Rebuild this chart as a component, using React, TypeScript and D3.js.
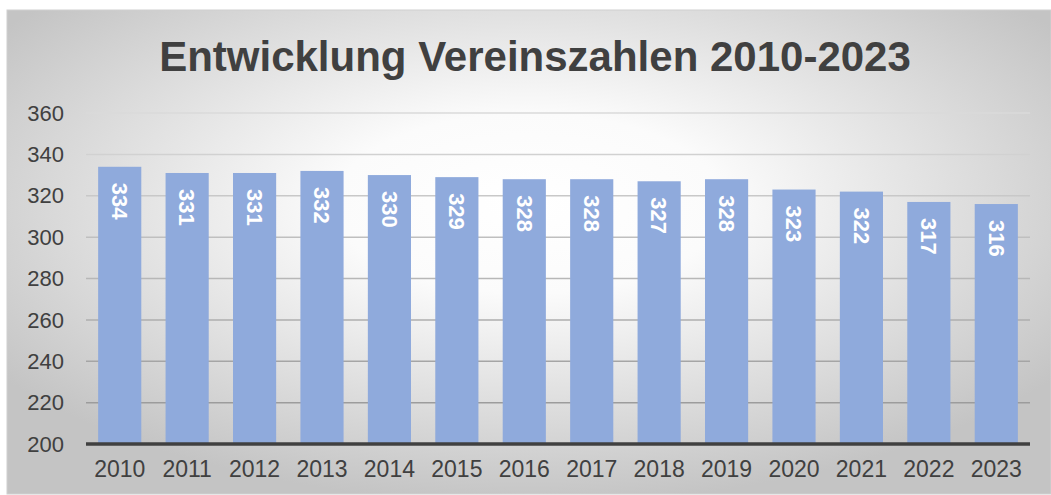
import React, { useEffect, useRef } from 'react';
import * as d3 from 'd3';

const years = ['2010', '2011', '2012', '2013', '2014', '2015', '2016', '2017', '2018', '2019', '2020', '2021', '2022', '2023'];
const vereine = [334, 331, 331, 332, 330, 329, 328, 328, 327, 328, 323, 322, 317, 316];
const yTicks = [200, 220, 240, 260, 280, 300, 320, 340, 360];
const title = 'Entwicklung Vereinszahlen 2010-2023';

export default function App() {
  const svgRef = useRef<SVGSVGElement>(null);

  useEffect(() => {
    if (!svgRef.current) return;
    const svg = d3.select(svgRef.current);
    svg.selectAll('*').remove();

    const width = 1051;
    const height = 495;
    const margin = { top: 113, right: 21, bottom: 51, left: 86 };
    const font = 'Liberation Sans, Arial, sans-serif';

    // Hintergrund mit radialem Verlauf
    const defs = svg.append('defs');
    const grad = defs.append('radialGradient')
      .attr('id', 'bg')
      .attr('cx', '0.5').attr('cy', '0.4')
      .attr('r', '0.62');
    grad.append('stop').attr('offset', '0').attr('stop-color', '#ffffff');
    grad.append('stop').attr('offset', '0.3').attr('stop-color', '#fbfbfb');
    grad.append('stop').attr('offset', '1').attr('stop-color', '#c4c4c4');

    svg.append('rect')
      .attr('x', 7).attr('y', 10)
      .attr('width', width - 7).attr('height', height - 11)
      .attr('fill', 'url(#bg)')
      .attr('stroke', '#d0d0d0');

    const x = d3.scaleBand()
      .domain(years)
      .range([margin.left, width - margin.right])
      .paddingInner(0.36)
      .paddingOuter(0.18);

    const y = d3.scaleLinear()
      .domain([200, 360])
      .range([height - margin.bottom, margin.top]);

    const gridColor = d3.scaleLinear<string>()
      .domain([360, 220])
      .range(['#dadada', '#9c9c9c']);

    // Gitterlinien
    svg.append('g')
      .selectAll('line')
      .data(yTicks.filter(t => t > 200))
      .join('line')
      .attr('x1', margin.left)
      .attr('x2', width - margin.right)
      .attr('y1', d => y(d))
      .attr('y2', d => y(d))
      .attr('stroke', d => gridColor(d))
      .attr('stroke-width', 1.5);

    // Balken
    svg.append('g')
      .selectAll('rect')
      .data(vereine)
      .join('rect')
      .attr('x', (_, i) => x(years[i])!)
      .attr('y', d => y(d))
      .attr('width', x.bandwidth())
      .attr('height', d => y(200) - y(d))
      .attr('fill', '#8faadc');

    // Datenbeschriftungen (gedreht)
    svg.append('g')
      .selectAll('text')
      .data(vereine)
      .join('text')
      .attr('transform', (d, i) => `translate(${x(years[i])! + x.bandwidth() / 2},${y(d) + 16}) rotate(90)`)
      .attr('dy', '0.35em')
      .attr('fill', '#ffffff')
      .attr('font-family', font)
      .attr('font-weight', 'bold')
      .attr('font-size', 22)
      .text(d => d);

    // Achsenlinie
    svg.append('line')
      .attr('x1', margin.left)
      .attr('x2', width - margin.right)
      .attr('y1', y(200))
      .attr('y2', y(200))
      .attr('stroke', '#404040')
      .attr('stroke-width', 3.5);

    // Y-Achse
    svg.append('g')
      .selectAll('text')
      .data(yTicks)
      .join('text')
      .attr('x', 64)
      .attr('y', d => y(d))
      .attr('dy', '0.35em')
      .attr('text-anchor', 'end')
      .attr('fill', '#404040')
      .attr('font-family', font)
      .attr('font-size', 22)
      .text(d => d);

    // X-Achse
    svg.append('g')
      .selectAll('text')
      .data(years)
      .join('text')
      .attr('x', d => x(d)! + x.bandwidth() / 2)
      .attr('y', y(200) + 33)
      .attr('text-anchor', 'middle')
      .attr('fill', '#404040')
      .attr('font-family', font)
      .attr('font-size', 23)
      .text(d => d);

    // Titel
    svg.append('text')
      .attr('x', 535)
      .attr('y', 71)
      .attr('text-anchor', 'middle')
      .attr('fill', '#404040')
      .attr('font-family', font)
      .attr('font-weight', 'bold')
      .attr('font-size', 42)
      .text(title);
  }, []);

  return (
    <svg
      ref={svgRef}
      width={1051}
      height={495}
      style={{ position: 'absolute', left: 0, top: 0, background: '#ffffff' }}
    />
  );
}
